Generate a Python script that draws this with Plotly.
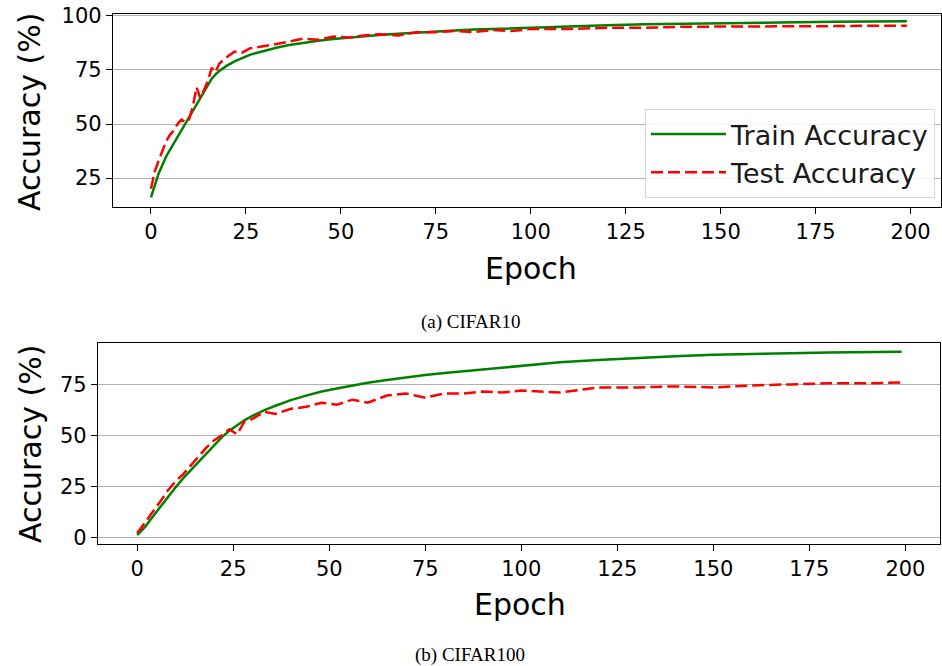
import plotly.graph_objects as go

# ---------------- data ----------------
EPOCHS_A = [0, 1, 2, 3, 4, 5, 6, 7, 8, 9, 10, 11, 12, 13, 14, 15, 16, 17, 18, 20, 22, 24, 26, 28, 30,
            33, 36, 40, 44, 48, 52, 56, 60, 65, 70, 75, 80, 85, 90, 95, 100, 110, 120, 130, 140,
            150, 160, 170, 180, 190, 199]
TRAIN_A = [16, 22, 27, 31, 35, 38, 41, 44, 47, 50, 53, 56, 59, 62, 65, 68, 71, 73, 74.5, 77, 79,
           80.5, 82, 83, 84, 85.3, 86.4, 87.6, 88.5, 89.3, 90, 90.6, 91.2, 91.8, 92.4, 92.9, 93.3,
           93.7, 94, 94.4, 94.7, 95.2, 95.7, 96.1, 96.4, 96.7, 96.9, 97.1, 97.3, 97.4, 97.5]
TEST_A = [20, 28, 33, 38, 42, 45, 47, 50, 52, 51, 52, 58, 67, 62, 66, 70, 76, 74, 78, 81, 83.5, 83,
          85, 85.5, 86, 87, 88, 89.5, 89, 90.5, 90, 91, 91.5, 91, 92.5, 92.5, 93, 92.5, 93.5, 93,
          94, 94, 94.5, 94.5, 95, 95, 95, 95.3, 95.3, 95.5, 95.5]

EPOCHS_B = [0, 2, 4, 6, 8, 10, 12, 14, 16, 18, 20, 22, 24, 26, 28, 30, 33, 36, 40, 44, 48, 52, 56, 60,
            65, 70, 75, 80, 85, 90, 95, 100, 110, 120, 130, 140, 150, 160, 170, 180, 190, 199]
TRAIN_B = [1, 5, 10, 15, 20, 24.5, 29, 33, 37.5, 41.5, 45.5, 49, 52.3, 55, 57.5, 59.5, 62.3, 64.5,
           67.3, 69.5, 71.5, 73, 74.5, 75.8, 77.2, 78.5, 79.6, 80.6, 81.5, 82.5, 83.4, 84.3, 85.8,
           87, 88, 88.8, 89.5, 90, 90.3, 90.6, 90.8, 91]
TEST_B = [2, 7, 12, 17.5, 23, 27.5, 31, 35.5, 40, 44, 47.5, 50, 53, 50.5, 57, 58, 61.5, 60.5, 63, 64,
          66, 65, 67.5, 66, 69.5, 70.5, 68.5, 70.5, 70.5, 71.5, 71, 72, 71, 73.5, 73.5, 74, 73.5,
          74.5, 75, 75.5, 75.5, 76]

X_TICKS = [0, 25, 50, 75, 100, 125, 150, 175, 200]
Y_TICKS_A = [25, 50, 75, 100]
Y_TICKS_B = [0, 25, 50, 75]

SERIES_NAMES = ["Train Accuracy", "Test Accuracy"]
CAPTIONS = ["(a) CIFAR10", "(b) CIFAR100"]

# ---------------- figure ----------------
W, H = 942, 666
GREEN = "#008000"
RED = "#ff0000"
FONT = "DejaVu Sans"

fig = go.Figure()

fig.add_trace(go.Scatter(x=EPOCHS_A, y=TRAIN_A, mode="lines", name=SERIES_NAMES[0],
                         line=dict(color=GREEN, width=2.5), xaxis="x", yaxis="y"))
fig.add_trace(go.Scatter(x=EPOCHS_A, y=TEST_A, mode="lines", name=SERIES_NAMES[1],
                         line=dict(color=RED, width=2.5, dash="12px,5px"), xaxis="x", yaxis="y"))
fig.add_trace(go.Scatter(x=EPOCHS_B, y=TRAIN_B, mode="lines", name=SERIES_NAMES[0], showlegend=False,
                         line=dict(color=GREEN, width=2.5), xaxis="x2", yaxis="y2"))
fig.add_trace(go.Scatter(x=EPOCHS_B, y=TEST_B, mode="lines", name=SERIES_NAMES[1], showlegend=False,
                         line=dict(color=RED, width=2.5, dash="12px,5px"), xaxis="x2", yaxis="y2"))


def px_x(p):
    return p / W


def px_y(p):
    return 1 - p / H


axis_common = dict(showline=True, linecolor="black", linewidth=1.3, mirror=True,
                   ticks="outside", ticklen=6, tickwidth=1.2, tickcolor="black", automargin=False,
                   tickfont=dict(family=FONT, size=21, color="black"), zeroline=False)

fig.update_layout(
    width=W, height=H,
    margin=dict(l=0, r=0, t=0, b=0, autoexpand=False),
    paper_bgcolor="white", plot_bgcolor="white",
    font=dict(family=FONT, color="black"),
    xaxis=dict(domain=[px_x(113), px_x(941)], range=[-10, 208], tickvals=X_TICKS,
               showgrid=False, anchor="y", **axis_common),
    yaxis=dict(domain=[px_y(207), px_y(14)], range=[11.6, 100.9], tickvals=Y_TICKS_A,
               showgrid=True, gridcolor="#b0b0b0", gridwidth=1, anchor="x", **axis_common),
    xaxis2=dict(domain=[px_x(98), px_x(940)], range=[-10.2, 209], tickvals=X_TICKS,
                showgrid=False, anchor="y2", **axis_common),
    yaxis2=dict(domain=[px_y(544), px_y(343)], range=[-3.3, 95.3], tickvals=Y_TICKS_B,
                showgrid=True, gridcolor="#b0b0b0", gridwidth=1, anchor="x2", **axis_common),
    legend=dict(x=px_x(935), xanchor="right", y=px_y(109), yanchor="top",
                bgcolor="rgba(255,255,255,0.85)", bordercolor="#d8d8d8", borderwidth=1,
                itemwidth=75, tracegroupgap=0,
                font=dict(family=FONT, size=27, color="#1a1a1a")),
    showlegend=True,
)

annotations = [
    dict(text="Accuracy (%)", x=px_x(30), y=px_y(112), textangle=-90),
    dict(text="Accuracy (%)", x=px_x(30), y=px_y(444), textangle=-90),
    dict(text="Epoch", x=px_x(531), y=px_y(268)),
    dict(text="Epoch", x=px_x(520), y=px_y(604)),
]
for a in annotations:
    fig.add_annotation(xref="paper", yref="paper", showarrow=False, xanchor="center", yanchor="middle",
                       font=dict(family=FONT, size=30, color="black"), **a)

fig.add_annotation(text=CAPTIONS[0], xref="paper", yref="paper", x=px_x(470), y=px_y(322),
                   showarrow=False, xanchor="center", yanchor="middle",
                   font=dict(family="Liberation Serif", size=19, color="black"))
fig.add_annotation(text=CAPTIONS[1], xref="paper", yref="paper", x=px_x(470), y=px_y(655),
                   showarrow=False, xanchor="center", yanchor="middle",
                   font=dict(family="Liberation Serif", size=19, color="black"))

fig.write_html("out.html", config={"displayModeBar": False},
               post_script="document.body.style.margin='0';document.documentElement.style.overflow='hidden';")
